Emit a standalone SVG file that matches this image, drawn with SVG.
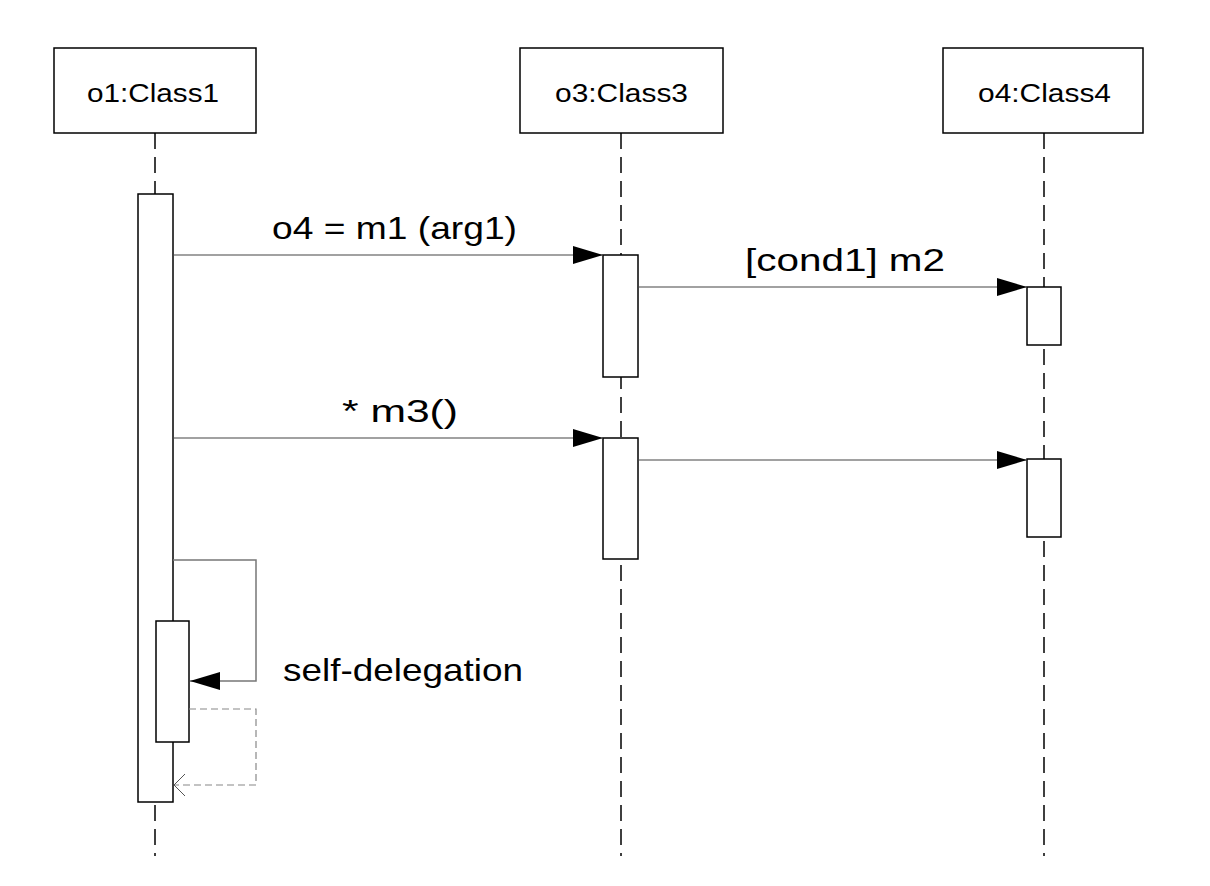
<svg xmlns="http://www.w3.org/2000/svg" width="1210" height="886" viewBox="0 0 1210 886">
  <defs>
    <style>
      .obj { fill: #fff; stroke: #000; stroke-width: 1.5; }
      .life { stroke: #000; stroke-width: 1.5; stroke-dasharray: 16 8; fill: none; }
      .act { fill: #fff; stroke: #000; stroke-width: 1.5; }
      .msg { stroke: #444; stroke-width: 1.2; fill: none; }
      .self { stroke: #777; stroke-width: 1.5; fill: none; }
      .ret { stroke: #888; stroke-width: 1.2; stroke-dasharray: 7 4; fill: none; }
      .lbl { font-family: "Liberation Sans", Arial, sans-serif; font-size: 26px; fill: #000; }
      .mlbl { font-family: "Liberation Sans", Arial, sans-serif; font-size: 32px; fill: #000; }
    </style>
    <marker id="filled" viewBox="0 0 30 18" refX="30" refY="9" markerWidth="30" markerHeight="18" markerUnits="userSpaceOnUse" orient="auto">
      <path d="M0,0 L30,9 L0,18 Z" fill="#000"/>
    </marker>
    <marker id="open" viewBox="0 0 12 22" refX="11" refY="11" markerWidth="12" markerHeight="22" markerUnits="userSpaceOnUse" orient="auto">
      <path d="M0,0 L11,11 L0,22" fill="none" stroke="#555" stroke-width="1"/>
    </marker>
  </defs>

  <rect width="1210" height="886" fill="#fff"/>

  <!-- lifelines -->
  <g id="lifelines">
    <line class="life" x1="155" y1="133" x2="155" y2="856"/>
    <line class="life" x1="621" y1="133" x2="621" y2="856"/>
    <line class="life" x1="1044" y1="133" x2="1044" y2="856"/>
  </g>

  <!-- objects -->
  <g id="o1">
    <rect class="obj" x="54" y="48" width="202" height="85"/>
    <text class="lbl" x="87" y="102" textLength="132" lengthAdjust="spacingAndGlyphs">o1:Class1</text>
  </g>
  <g id="o3">
    <rect class="obj" x="520" y="48" width="203" height="85"/>
    <text class="lbl" x="555" y="102" textLength="133" lengthAdjust="spacingAndGlyphs">o3:Class3</text>
  </g>
  <g id="o4">
    <rect class="obj" x="943" y="48" width="200" height="85"/>
    <text class="lbl" x="978" y="102" textLength="133" lengthAdjust="spacingAndGlyphs">o4:Class4</text>
  </g>

  <!-- activation bars -->
  <g id="act-o1">
    <rect class="act" x="138" y="194" width="35" height="608"/>
  </g>
  <g id="act-o1-nested">
    <rect class="act" x="156" y="621" width="33" height="121"/>
  </g>
  <g id="act-o3-a">
    <rect class="act" x="603" y="255" width="35" height="122"/>
  </g>
  <g id="act-o3-b">
    <rect class="act" x="603" y="438" width="35" height="121"/>
  </g>
  <g id="act-o4-a">
    <rect class="act" x="1027" y="287" width="34" height="58"/>
  </g>
  <g id="act-o4-b">
    <rect class="act" x="1027" y="459" width="34" height="78"/>
  </g>

  <!-- messages -->
  <g id="connectors">
    <line class="msg" x1="173" y1="255" x2="603" y2="255" marker-end="url(#filled)"/>
    <line class="msg" x1="638" y1="287" x2="1027" y2="287" marker-end="url(#filled)"/>
    <line class="msg" x1="173" y1="438" x2="603" y2="438" marker-end="url(#filled)"/>
    <line class="msg" x1="638" y1="460" x2="1027" y2="460" marker-end="url(#filled)"/>
    <polyline class="self" points="173,560 256,560 256,681 190,681" marker-end="url(#filled)"/>
    <polyline class="ret" points="189,709 256,709 256,785 174,785" marker-end="url(#open)"/>
  </g>

  <!-- message labels -->
  <g id="labels">
    <text class="mlbl" x="272" y="239" textLength="245" lengthAdjust="spacingAndGlyphs">o4 = m1 (arg1)</text>
    <text class="mlbl" x="745" y="271" textLength="200" lengthAdjust="spacingAndGlyphs">[cond1] m2</text>
    <text class="mlbl" x="342" y="422" textLength="116" lengthAdjust="spacingAndGlyphs">* m3()</text>
    <text class="mlbl" x="283" y="681" textLength="240" lengthAdjust="spacingAndGlyphs">self-delegation</text>
  </g>
</svg>
